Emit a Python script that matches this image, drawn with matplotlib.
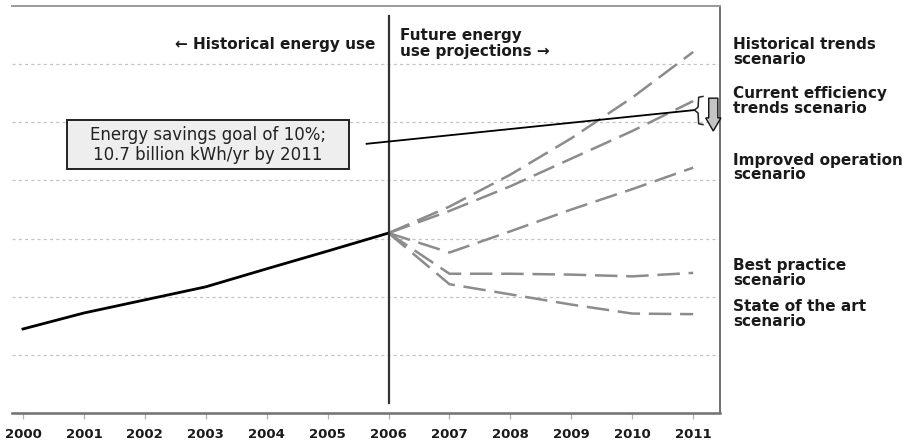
import matplotlib
matplotlib.use("Agg")
import matplotlib.pyplot as plt
from matplotlib.patches import FancyArrow, Rectangle

plt.rcParams['font.family'] = ['DejaVu Sans']

# ---- data (billion kWh/yr) ----
hist_years = [2000, 2001, 2002, 2003, 2004, 2005, 2006]
hist_values = [28.9, 34.4, 38.9, 43.4, 49.6, 55.7, 61.9]

proj_years = [2006, 2007, 2008, 2009, 2010, 2011]
historical_trends = [61.9, 71.0, 82.0, 94.5, 108.5, 124.2]
current_efficiency = [61.9, 69.5, 78.0, 87.5, 97.0, 107.3]
improved_operation = [61.9, 55.2, 62.5, 70.0, 77.0, 84.4]
best_practice = [61.9, 47.9, 47.9, 47.6, 47.0, 48.2]
state_of_the_art = [61.9, 44.3, 40.8, 37.3, 34.2, 34.0]

scenario_labels = ["Historical trends\nscenario",
                   "Current efficiency\ntrends scenario",
                   "Improved operation\nscenario",
                   "Best practice\nscenario",
                   "State of the art\nscenario"]
scenarios = [historical_trends, current_efficiency, improved_operation,
             best_practice, state_of_the_art]

x_ticks = list(range(2000, 2012))
grid_levels = [20, 40, 60, 80, 100, 120]
savings_text = "Energy savings goal of 10%;\n10.7 billion kWh/yr by 2011"

# ---- figure ----
fig = plt.figure(figsize=(9.06, 4.44), dpi=100)
ax = fig.add_axes([12/906, 31/444, (720-12)/906, (413-6)/444])
ax.set_xlim(1999.82, 2011.44)
ax.set_ylim(0, 140)

ax.set_yticks(grid_levels)
ax.yaxis.grid(True, linestyle=(0, (2.5, 2.5)), color='#c4c4c4', linewidth=0.9)
ax.tick_params(axis='y', length=0, labelleft=False)
ax.set_xticks(x_ticks)
ax.set_xticklabels([str(y) for y in x_ticks], fontsize=9.5, fontweight='bold',
                   color='#1a1a1a')
ax.tick_params(axis='x', length=4, width=0.9, color='#b0b0b0', pad=7)
ax.set_axisbelow(True)

ax.spines['left'].set_visible(False)
ax.spines['top'].set_color('#9a9a9a')
ax.spines['top'].set_linewidth(1.4)
ax.spines['right'].set_color('#707070')
ax.spines['right'].set_linewidth(1.4)
ax.spines['bottom'].set_color('#707070')
ax.spines['bottom'].set_linewidth(1.8)

# scenario projections
for vals in scenarios:
    ax.plot(proj_years, vals, color='#8c8c8c', linewidth=1.8,
            linestyle=(0, (9, 3.5)), zorder=3)

# historical line
ax.plot(hist_years, hist_values, color='black', linewidth=2.0, zorder=4)

# divider at 2006
ax.plot([2006, 2006], [3.5, 136.5], color='#333333', linewidth=1.6, zorder=5)

# section titles
ax.text(2005.78, 126.9, "\u2190 Historical energy use", ha='right', va='center',
        fontsize=11, fontweight='bold', color='#1a1a1a')
ax.text(2006.19, 127.0, "Future energy\nuse projections \u2192", ha='left',
        va='center', fontsize=11, fontweight='bold', color='#1a1a1a',
        linespacing=1.05)

# scenario labels at the right
for lab, vals in zip(scenario_labels, scenarios):
    ax.text(2011.66, vals[-1], lab, ha='left', va='center', fontsize=11,
            fontweight='bold', color='#1a1a1a', linespacing=0.95,
            clip_on=False)

# savings goal box
ax.add_patch(Rectangle((2000.72, 83.9), 4.63, 16.9, facecolor='#eeeeee',
                       edgecolor='#222222', linewidth=1.4, zorder=6))
ax.text(2003.03, 92.3, savings_text, ha='center', va='center', fontsize=12,
        color='#222222', linespacing=1.15, zorder=7)

ce_end = current_efficiency[-1]
# pointer line to bracket
ax.plot([2005.64, 2011.02], [92.6, ce_end - 3.1], color='black',
        linewidth=1.3, zorder=6, clip_on=False)
# bracket
top = ce_end + 1.6
bot = ce_end - 8.1
mid = ce_end - 3.1
bx = [2011.16, 2011.09, 2011.08, 2011.02, 2011.08, 2011.09, 2011.16]
by = [top, top - 0.3, mid + 1.0, mid, mid - 1.0, bot + 0.3, bot]
ax.plot(bx, by, color='#222222', linewidth=1.1, zorder=6, clip_on=False)
# down arrow
arrow = FancyArrow(2011.33, ce_end + 1.0, 0, -11.3, width=0.15,
                   head_width=0.25, head_length=4.5, length_includes_head=True,
                   facecolor='#c4c4c4', edgecolor='#111111', linewidth=1.0,
                   zorder=8, clip_on=False)
ax.add_patch(arrow)

fig.savefig("out.png", dpi=100)
